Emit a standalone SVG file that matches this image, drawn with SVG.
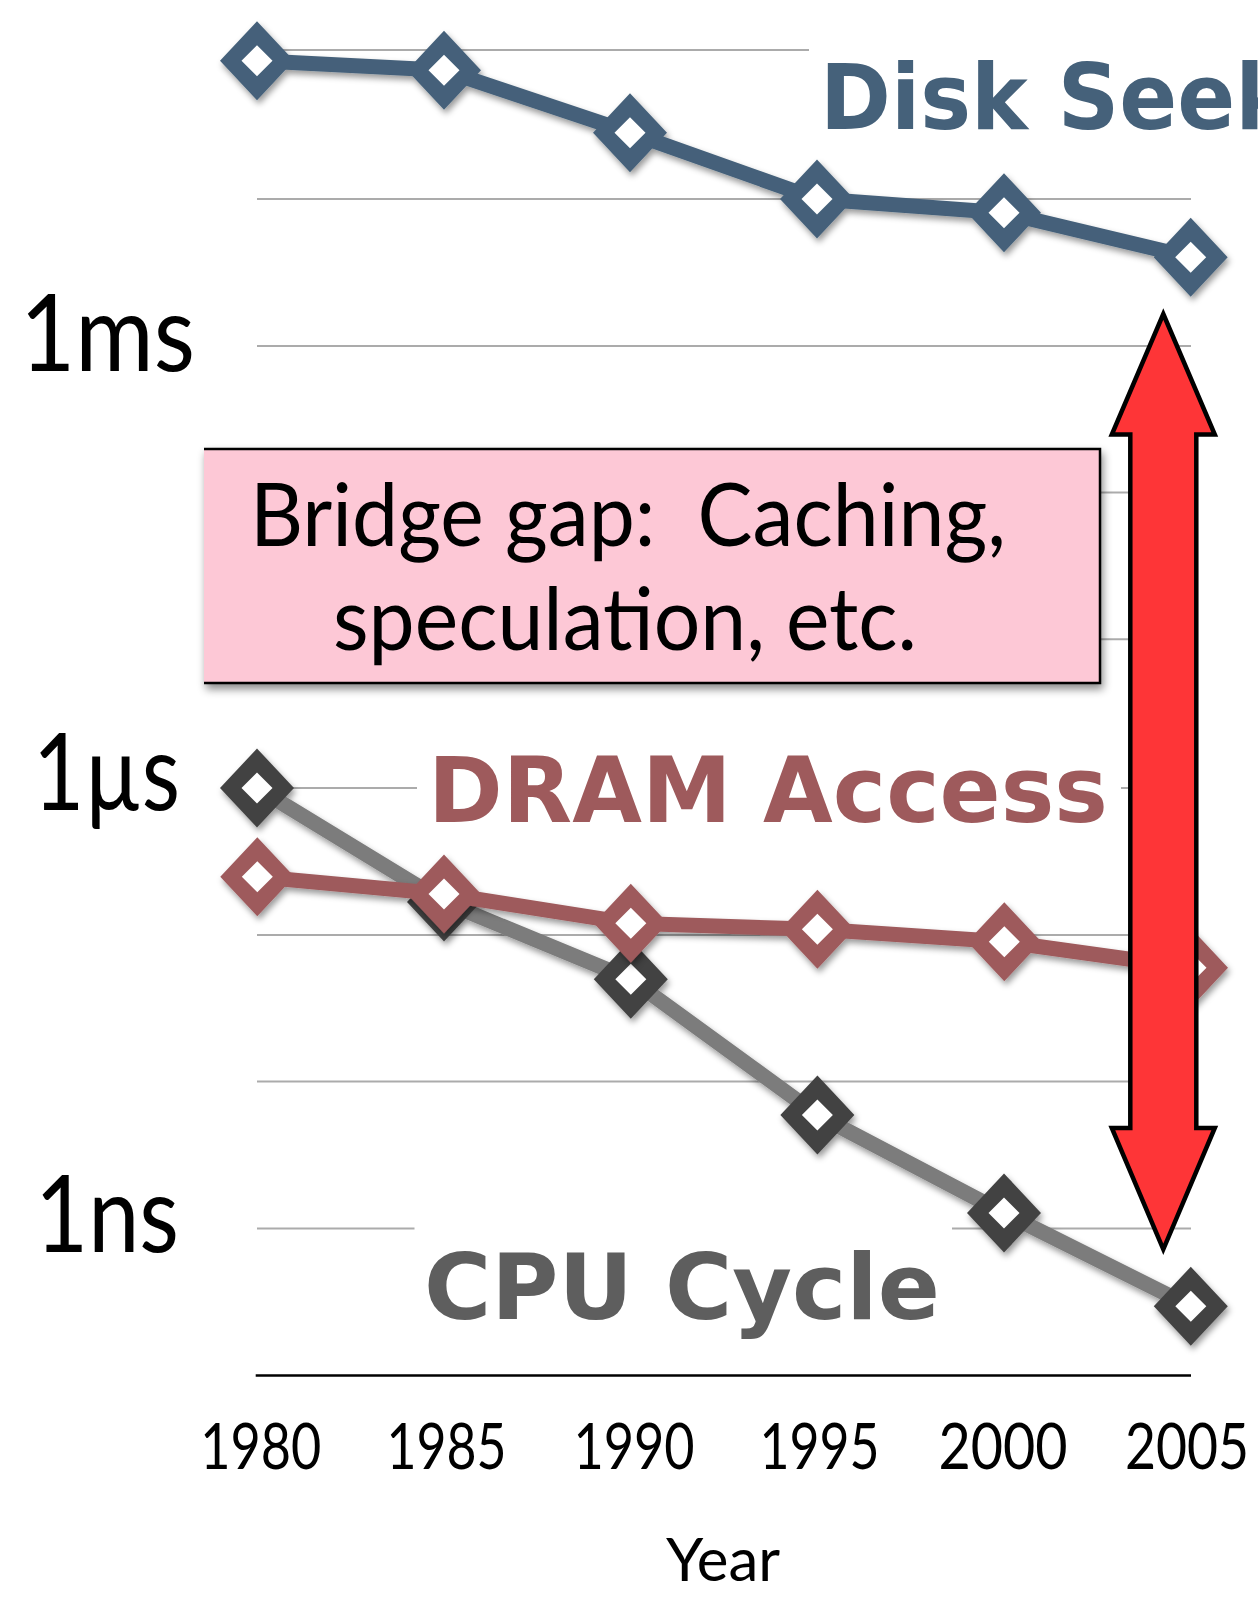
<svg xmlns="http://www.w3.org/2000/svg" xmlns:xlink="http://www.w3.org/1999/xlink" width="1258" height="1598" viewBox="0 0 1258 1598">
<style>
.grid { stroke:#ababab; stroke-width:2; fill:none; }
.reg { font-family: Lato, "Open Sans", sans-serif; fill:#000; }
.bold { font-family: "DejaVu Sans", sans-serif; font-weight:bold; font-size:90px; }
.yl { font-size:107px; }
.yr { font-size:63px; text-anchor:middle; }
.bg { fill:#fff; }
.ser { fill:none; stroke-width:15; stroke-linejoin:round; }
</style>
<defs>
<filter id="sh" x="-10%" y="-10%" width="125%" height="125%">
<feDropShadow dx="2" dy="4" stdDeviation="3" flood-color="#000" flood-opacity="0.4"/>
</filter>
<filter id="bsh" x="-5%" y="-5%" width="115%" height="120%">
<feDropShadow dx="2" dy="5" stdDeviation="4" flood-color="#000" flood-opacity="0.45"/>
</filter>
<g id="mk">
<polygon points="0,-39.5 37,0 0,39.5 -37,0" fill="currentColor"/>
<polygon points="0,-15.5 15.5,0 0,15.5 -15.5,0" fill="#fff"/>
</g>
</defs>
<rect width="1258" height="1598" fill="#fff"/>

<g id="gridlines">
<line class="grid" x1="257" y1="50" x2="1191" y2="50"/>
<line class="grid" x1="257" y1="199" x2="1191" y2="199"/>
<line class="grid" x1="257" y1="346" x2="1191" y2="346"/>
<line class="grid" x1="257" y1="492.5" x2="1191" y2="492.5"/>
<line class="grid" x1="257" y1="639.3" x2="1191" y2="639.3"/>
<line class="grid" x1="257" y1="788" x2="1191" y2="788"/>
<line class="grid" x1="257" y1="935" x2="1191" y2="935"/>
<line class="grid" x1="257" y1="1081.5" x2="1191" y2="1081.5"/>
<line class="grid" x1="257" y1="1228.5" x2="1191" y2="1228.5"/>
</g>

<g id="label-disk">
<rect class="bg" x="809" y="30" width="449" height="115"/>
<text class="bold" x="820" y="129.3" fill="#45617a" textLength="472" lengthAdjust="spacingAndGlyphs">Disk Seek</text>
</g>
<g id="label-dram">
<rect class="bg" x="417" y="745" width="704" height="92"/>
<text class="bold" x="428" y="822.3" fill="#9e5a5c" textLength="680" lengthAdjust="spacingAndGlyphs">DRAM Access</text>
</g>
<g id="label-cpu">
<rect class="bg" x="414.5" y="1212" width="537.5" height="128"/>
<text class="bold" x="424" y="1319" fill="#5e5e5e" textLength="516" lengthAdjust="spacingAndGlyphs">CPU Cycle</text>
</g>

<g id="series-cpu" filter="url(#sh)" style="color:#424242">
<polyline class="ser" stroke="#7b7b7b" points="257,788 444,902 630.8,979.3 817.4,1115 1004,1213 1190.8,1306.3"/>
<use xlink:href="#mk" x="257" y="788"/>
<use xlink:href="#mk" x="444" y="902"/>
<use xlink:href="#mk" x="630.8" y="979.3"/>
<use xlink:href="#mk" x="817.4" y="1115"/>
<use xlink:href="#mk" x="1004" y="1213"/>
<use xlink:href="#mk" x="1190.8" y="1306.3"/>
</g>

<g id="series-dram" filter="url(#sh)" style="color:#9e5a5c">
<polyline class="ser" stroke="#9e5a5c" points="257.3,876.7 444,894 630.8,923.3 817.4,929.3 1004.3,941.7 1191,967.7"/>
<use xlink:href="#mk" x="257.3" y="876.7"/>
<use xlink:href="#mk" x="444" y="894"/>
<use xlink:href="#mk" x="630.8" y="923.3"/>
<use xlink:href="#mk" x="817.4" y="929.3"/>
<use xlink:href="#mk" x="1004.3" y="941.7"/>
<use xlink:href="#mk" x="1191" y="967.7"/>
</g>

<g id="series-disk" filter="url(#sh)" style="color:#45617a">
<polyline class="ser" stroke="#45617a" points="257,60.7 444,70.3 630,132.7 817,199 1004,212.7 1190.7,257.3"/>
<use xlink:href="#mk" x="257" y="60.7"/>
<use xlink:href="#mk" x="444" y="70.3"/>
<use xlink:href="#mk" x="630" y="132.7"/>
<use xlink:href="#mk" x="817" y="199"/>
<use xlink:href="#mk" x="1004" y="212.7"/>
<use xlink:href="#mk" x="1190.7" y="257.3"/>
</g>

<g id="bridge-box">
<g filter="url(#bsh)">
<rect x="204" y="449" width="896" height="234" fill="#fdc8d6"/>
<path d="M204,449 H1100 V683 H204" fill="none" stroke="#000" stroke-width="2.5"/>
</g>
<text class="reg" style="font-size:88px; white-space:pre" x="250" y="546" textLength="756" lengthAdjust="spacingAndGlyphs">Bridge gap:  Caching,</text>
<text class="reg" style="font-size:88px" x="333" y="650" textLength="584" lengthAdjust="spacingAndGlyphs">speculation, etc.</text>
</g>

<g id="gap-arrow">
<polygon points="1163.3,314 1214.8,434.5 1196.3,434.5 1196.3,1128 1214.8,1128 1163.3,1249.3 1111.8,1128 1130.3,1128 1130.3,434.5 1111.8,434.5" fill="#fe3537" stroke="#000" stroke-width="4.5" stroke-linejoin="miter" stroke-miterlimit="10"/>
</g>

<g id="axis">
<line x1="255.7" y1="1375.5" x2="1191" y2="1375.5" stroke="#000" stroke-width="2.5"/>
</g>

<g id="y-labels">
<text class="reg yl" x="20" y="371" textLength="175" lengthAdjust="spacingAndGlyphs">1ms</text>
<text class="reg yl" x="33" y="810" textLength="147" lengthAdjust="spacingAndGlyphs">1µs</text>
<text class="reg yl" x="35" y="1251.7" textLength="144" lengthAdjust="spacingAndGlyphs">1ns</text>
</g>

<g id="x-labels">
<text class="reg yr" x="260.8" y="1469.3" textLength="121" lengthAdjust="spacingAndGlyphs">1980</text>
<text class="reg yr" x="446.4" y="1469.3" textLength="120" lengthAdjust="spacingAndGlyphs">1985</text>
<text class="reg yr" x="634" y="1469.3" textLength="121" lengthAdjust="spacingAndGlyphs">1990</text>
<text class="reg yr" x="819.5" y="1469.3" textLength="120" lengthAdjust="spacingAndGlyphs">1995</text>
<text class="reg yr" x="1003" y="1469.3" textLength="129" lengthAdjust="spacingAndGlyphs">2000</text>
<text class="reg yr" x="1187" y="1469.3" textLength="124" lengthAdjust="spacingAndGlyphs">2005</text>
<text class="reg" x="723" y="1580.7" style="font-size:60px; text-anchor:middle">Year</text>
</g>
</svg>
